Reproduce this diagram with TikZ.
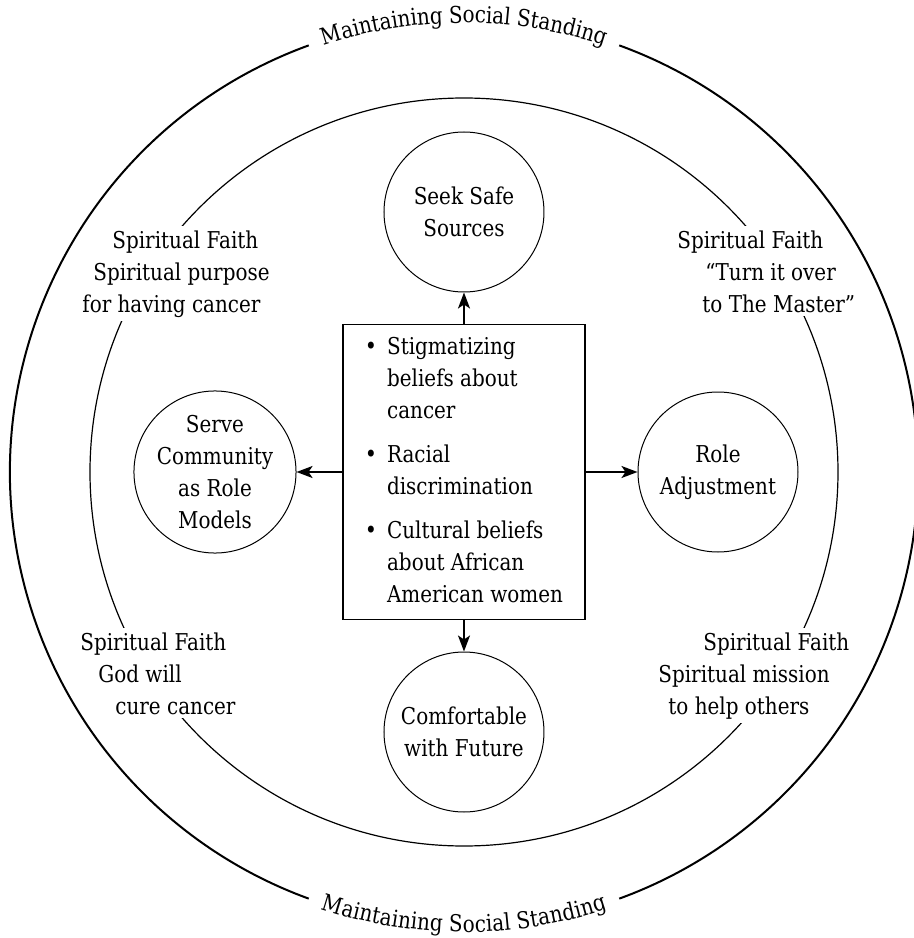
\documentclass[tikz,border=0pt]{standalone}
\usepackage{fontspec}
\setmainfont{DejaVu Serif}[FakeStretch=0.86]
\usetikzlibrary{arrows.meta,decorations.text}

\tikzset{
	stage/.style={draw, circle, minimum size=80pt, inner sep=0pt, align=center, line width=0.5pt},
	faith/.style={fill=white, align=left, inner sep=2pt},
	push/.style={-{Stealth[length=8pt, width=6pt, inset=2pt]}, line width=1pt},
	ringtext/.style={decorate, decoration={text along path, text={Maintaining Social Standing}, text align=center, raise=#1}}
}

\begin{document}
\fontsize{11.6}{16}\selectfont
\begin{tikzpicture}
	\useasboundingbox (-232pt,-233pt) rectangle (225pt,236pt);

	% inner ring, broken by the faith labels
	\draw[line width=0.6pt] (0,0) circle (187pt);

	\node (tl)[faith, anchor=north west] at (-193pt,123pt) {
		\hspace*{15pt}Spiritual Faith\\
		\hspace*{5.5pt}Spiritual purpose\\
		for having cancer};
	\node (tr)[faith, anchor=north west] at (104.5pt,123pt) {
		Spiritual Faith\\
		\hspace*{14pt}“Turn it over\\
		\hspace*{12.5pt}to The Master”};
	\node (bl)[faith, anchor=north west] at (-194pt,-78pt) {
		Spiritual Faith\\
		\hspace*{9pt}God will\\
		\hspace*{17.5pt}cure cancer};
	\node (br)[faith, anchor=north west] at (95pt,-78pt) {
		\hspace*{22.5pt}Spiritual Faith\\
		Spiritual mission\\
		\hspace*{5pt}to help others};

	% outer ring
	\draw[line width=1pt] (70:227pt) arc (70:-70:227pt);
	\draw[line width=1pt] (110:227pt) arc (110:250:227pt);
	\path[ringtext=-2.5pt] (160:227pt) arc (160:20:227pt);
	\path[ringtext=-3pt] (200:227pt) arc (200:340:227pt);

	\node (safe)[stage] at (0,130pt) {Seek Safe\\Sources};
	\node (serve)[stage] at (-124.5pt,0) {Serve\\Community\\as Role\\Models};
	\node (role)[stage] at (127pt,0) {Role\\Adjustment};
	\node (future)[stage] at (0,-130pt) {Comfortable\\with Future};

	\node (cues)[draw, line width=0.6pt, minimum width=121pt, minimum height=142.5pt] at (0,0) {
		\begin{tabular}{@{}l@{\hspace{5pt}}l@{}}
			{\large\textbullet} & Stigmatizing\\
			& beliefs about\\
			& cancer\\[6pt]
			{\large\textbullet} & Racial\\
			& discrimination\\[6pt]
			{\large\textbullet} & Cultural beliefs\\
			& about African\\
			& American women
		\end{tabular}
	};

	\draw[push] (cues.north) -- (safe);
	\draw[push] (cues.west) -- (serve);
	\draw[push] (cues.east) -- (role);
	\draw[push] (cues.south) -- (future);
\end{tikzpicture}
\end{document}
